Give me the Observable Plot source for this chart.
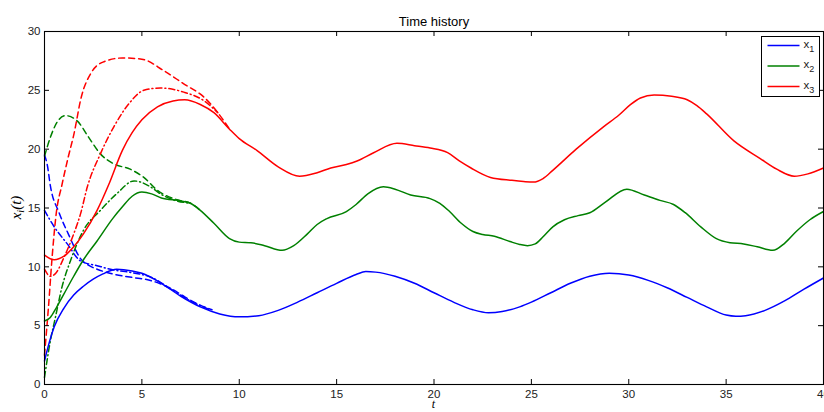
<!DOCTYPE html>
<html>
<head>
<meta charset="utf-8">
<script src="https://cdn.jsdelivr.net/npm/d3@7"></script>
<script src="https://cdn.jsdelivr.net/npm/@observablehq/plot@0.6"></script>
<style>
  html, body { margin: 0; padding: 0; background: #fff; overflow: hidden; }
  #chart { width: 824px; height: 412px; overflow: hidden; }
  #chart svg { max-width: none !important; }
</style>
</head>
<body>
<div id="chart"></div>
<script>
// Time history of the three states x1, x2, x3 (solid) together with two
// estimates of each (dashed and dash-dot) that converge onto the states.

const xTicks = [0, 5, 10, 15, 20, 25, 30, 35, 40];
const yTicks = [0, 5, 10, 15, 20, 25, 30];
const seriesNames = ["x1", "x2", "x3"];
const seriesColors = ["#0000ff", "#008000", "#ff0000"];

// [t, value] samples
const x1Solid = [[0,2.0],[0.25,3.6],[0.5,4.9],[1,6.5],[1.5,7.6],[2,8.35],[2.5,8.95],[3,9.4],[3.7,9.8],[4.5,9.65],[5,9.45],[6,8.6],[7,7.5],[8,6.6],[9,6.0],[10,5.75],[11,5.85],[12,6.3],[13,7.0],[14,7.8],[15,8.6],[16,9.35],[16.5,9.6],[17,9.55],[18,9.2],[19,8.6],[20,7.8],[21,7.0],[22,6.35],[22.8,6.1],[23.5,6.2],[24.4,6.6],[25,7.0],[26,7.8],[27,8.6],[28,9.2],[29,9.45],[30,9.3],[31,8.85],[32,8.2],[33,7.4],[34,6.6],[35,5.9],[35.5,5.8],[36,5.85],[37,6.3],[38,7.1],[39,8.1],[40,9.05]];
const x1Dashed = [[0,19.5],[0.15,18.6],[0.3,16.9],[0.75,14.6],[1.25,12.7],[1.85,10.7],[2.3,10.1],[2.7,9.8],[3.5,9.4],[4.5,9.1],[5.3,8.9],[6.5,8.15],[7.2,7.45],[7.8,6.9],[8.6,6.35]];
const x1DashDot = [[0,14.8],[0.5,13.4],[1.17,11.95],[1.85,10.5],[2.7,10.1],[3.5,9.75],[4.5,9.5],[5.5,9.1],[6.5,8.1],[7.5,7.1],[8.5,6.35]];

const x2Solid = [[0,5.4],[0.3,5.7],[0.6,6.5],[1,7.7],[1.5,9.2],[2,10.6],[2.7,12.2],[3.5,14.1],[4,15.1],[4.5,16.0],[5,16.35],[5.5,16.2],[6,15.85],[7,15.6],[7.5,15.4],[8,14.8],[8.7,13.7],[9.5,12.4],[10,12.1],[10.6,12.05],[11.3,11.8],[12.2,11.4],[12.8,11.8],[13.5,12.8],[14,13.6],[14.5,14.1],[15.5,14.7],[16,15.3],[16.6,16.2],[17.4,16.8],[18,16.6],[18.8,16.1],[19.8,15.8],[20.3,15.4],[20.8,14.7],[21.4,13.7],[22,13.0],[22.5,12.75],[23.1,12.6],[23.9,12.15],[24.4,11.9],[24.8,11.8],[25.2,11.95],[25.6,12.55],[26.1,13.4],[26.7,14.0],[27.4,14.35],[28,14.6],[28.8,15.5],[29.9,16.6],[30.8,16.1],[31.6,15.65],[32.3,15.3],[32.9,14.6],[33.7,13.4],[34.5,12.4],[35.2,12.05],[35.9,11.95],[36.6,11.7],[37.4,11.4],[38,12.0],[38.6,13.0],[39.3,14.0],[40,14.7]];
const x2Dashed = [[0,19.4],[0.3,21.0],[0.65,22.3],[1.08,22.85],[1.68,22.4],[2.27,21.0],[2.87,19.6],[3.56,18.75],[4.4,18.3],[5.1,17.6],[5.8,16.5],[6.8,15.7],[7.5,15.4],[8,14.8]];
const x2DashDot = [[0,0.6],[0.3,3.7],[0.56,5.7],[0.9,8.3],[1.33,10.5],[2,13.1],[2.87,14.8],[3.7,16.2],[4.6,17.3],[5.44,16.8],[5.95,16.2],[6.6,15.7],[7.5,15.4]];

const x3Solid = [[0,11.0],[0.5,10.6],[1,10.9],[1.5,11.7],[2,12.8],[2.7,14.8],[3.3,17.0],[4,19.9],[4.5,21.4],[5,22.5],[5.8,23.6],[6.6,24.1],[7.2,24.2],[8,23.8],[8.7,23.1],[9.5,21.7],[10,20.9],[10.9,19.9],[12,18.5],[13.1,17.7],[14,18.0],[14.7,18.4],[15.5,18.7],[16.05,19.0],[16.9,19.7],[18.1,20.5],[19,20.3],[19.8,20.1],[20.7,19.7],[21.3,19.0],[21.9,18.4],[22.9,17.6],[24,17.35],[24.6,17.25],[25.1,17.2],[25.6,17.5],[26.1,18.2],[27.3,20.0],[28.7,21.9],[29.5,22.9],[30.1,23.8],[30.6,24.35],[31.3,24.6],[32.2,24.5],[33,24.2],[33.5,23.7],[34,23.0],[35.4,20.7],[36.75,19.2],[37.6,18.3],[38.5,17.7],[39.2,17.9],[40,18.4]];
const x3Dashed = [[0,2.5],[0.2,6.5],[0.4,11],[0.6,14.5],[0.9,17],[1.2,19.2],[1.5,21.2],[1.9,24.5],[2.4,26.5],[3,27.4],[4,27.75],[5,27.65],[6.1,26.7],[7.15,25.55],[8.2,24.4],[8.9,23.1],[9.5,21.7]];
const x3DashDot = [[0,9.8],[0.3,9.2],[0.6,9.5],[1,10.8],[1.5,12.8],[1.85,14.5],[2.2,16.8],[2.87,19.6],[3.56,21.9],[4.4,24.0],[5.1,25.0],[5.95,25.2],[7.15,24.85],[8.2,24.1],[8.9,23.1]];

const W = 850, H = 412;
const mL = 44, mR = 27, mT = 31, mB = 28;
const plotW = W - mL - mR, plotH = H - mT - mB;
const TICK = 5;

const lineOpts = (color, dash) => ({
  x: d => d[0], y: d => d[1], stroke: color, strokeWidth: 1.5,
  curve: "monotone-x", strokeDasharray: dash
});

const groups = [
  [x1Solid, x1Dashed, x1DashDot],
  [x2Solid, x2Dashed, x2DashDot],
  [x3Solid, x3Dashed, x3DashDot]
];

const lineMarks = [];
groups.forEach((g, i) => {
  lineMarks.push(Plot.line(g[1], lineOpts(seriesColors[i], "6,4")));
  lineMarks.push(Plot.line(g[2], lineOpts(seriesColors[i], "6,3,1,3")));
});
groups.forEach((g, i) => {
  lineMarks.push(Plot.line(g[0], lineOpts(seriesColors[i], null)));
});

const svg = Plot.plot({
  width: W, height: H,
  marginLeft: mL, marginRight: mR, marginTop: mT, marginBottom: mB,
  style: { fontFamily: "'Liberation Sans', Arial, sans-serif", fontSize: "11.5px", background: "#fff", color: "#000", maxWidth: "none" },
  x: { domain: [0, 40], label: null },
  y: { domain: [0, 30], label: null },
  marks: [
    ...lineMarks,
    // inward ticks on all four sides
    Plot.gridX(xTicks, { stroke: "#000", strokeOpacity: 1, insetTop: plotH - TICK }),
    Plot.gridX(xTicks, { stroke: "#000", strokeOpacity: 1, insetBottom: plotH - TICK }),
    Plot.gridY(yTicks, { stroke: "#000", strokeOpacity: 1, insetRight: plotW - TICK }),
    Plot.gridY(yTicks, { stroke: "#000", strokeOpacity: 1, insetLeft: plotW - TICK }),
    Plot.axisX(xTicks, { anchor: "bottom", tickSize: 0, tickPadding: 5, label: null, fill: "#222" }),
    Plot.axisY(yTicks, { anchor: "left", tickSize: 0, tickPadding: 4, label: null, fill: "#222" }),
    Plot.frame({ stroke: "#000", strokeWidth: 1.1 }),
    Plot.text(["Time history"], { frameAnchor: "top", dy: -15, fontSize: 13, fill: "#000" })
  ]
});
svg.style.maxWidth = "none";
svg.setAttribute("width", W);
svg.setAttribute("height", H);

const s = d3.select(svg);
const serif = "'Liberation Serif', 'DejaVu Serif', serif";

// axis titles
s.append("text")
  .attr("x", mL + plotW / 2).attr("y", 408)
  .attr("text-anchor", "middle")
  .attr("font-family", serif).attr("font-style", "italic").attr("font-size", 12)
  .text("t");

const yl = s.append("text")
  .attr("transform", `translate(21,${mT + plotH / 2}) rotate(-90)`)
  .attr("text-anchor", "middle")
  .attr("font-family", serif).attr("font-style", "italic").attr("font-size", 15);
yl.append("tspan").text("x");
yl.append("tspan").attr("font-size", 10).attr("dy", 3).text("i");
yl.append("tspan").attr("dy", -3).text("(t)");

// legend box
const lg = s.append("g").attr("transform", "translate(761.5,36.5)");
lg.append("rect").attr("width", 58).attr("height", 60)
  .attr("fill", "#fff").attr("stroke", "#000").attr("stroke-width", 1);
seriesNames.forEach((name, i) => {
  const y = 9 + i * 20.5;
  lg.append("line").attr("x1", 6).attr("x2", 38).attr("y1", y).attr("y2", y)
    .attr("stroke", seriesColors[i]).attr("stroke-width", 1.5);
  const t = lg.append("text").attr("x", 42).attr("y", y + 2)
    .attr("text-anchor", "start")
    .attr("font-family", "'Liberation Sans', Arial, sans-serif").attr("font-size", 11.5).attr("fill", "#222");
  t.append("tspan").text(name[0]);
  t.append("tspan").attr("font-size", 9).attr("dy", 4).text(name.slice(1));
});

document.getElementById("chart").appendChild(svg);
</script>
</body>
</html>
